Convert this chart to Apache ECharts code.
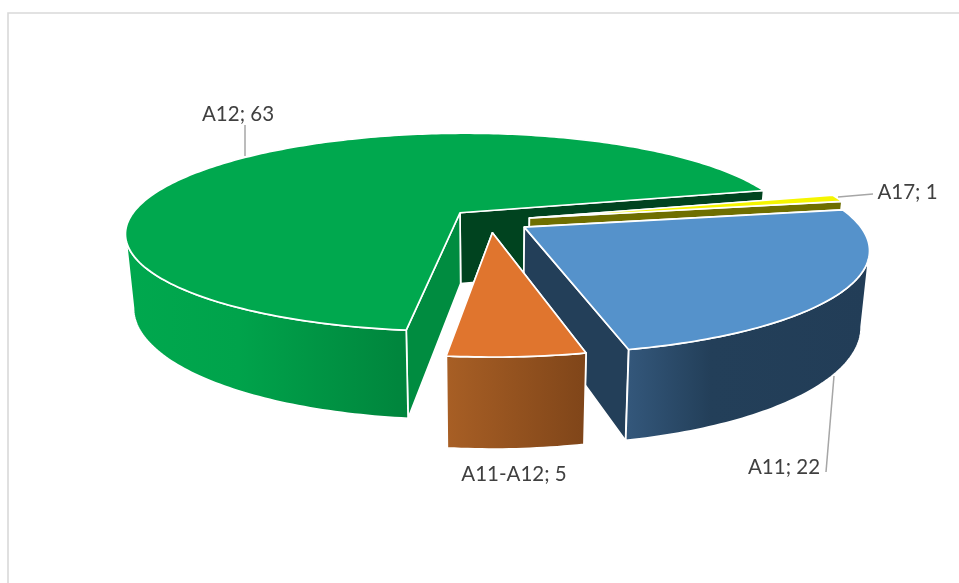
<!DOCTYPE html>
<html><head><meta charset="utf-8">
<style>html,body{margin:0;padding:0;background:#fff}#c{width:959px;height:583px}</style>
<script src="https://cdn.jsdelivr.net/npm/echarts@6/dist/echarts.min.js"></script>
</head><body><div id="c"></div>
<script>
// data, clockwise from the first slice
const categories = ['A17', 'A11', 'A11-A12', 'A12'];
const values = [1, 22, 5, 63];
// paint order: back to front
const paintOrder = ['A12', 'A17', 'A11', 'A11-A12'];
const startAngle = 75.8;
const explode = 0.122;

// projection of the tilted disc
const view = { cx: 490, cy: 220.5, rx: 332, ry: 98.2, persp: 0.2, depth: 72, taper: 0.022 };

const looks = {
  'A12': { reach: 1, top: '#00A84E', startCut: '#008C40', endCut: '#00431F',
           wall: [[0, '#00A84E'], [0.4, '#00A34B'], [1, '#00843C']] },
  'A17': { reach: 1, top: '#F5F500', startCut: '#6F6F00', endCut: '#6F6F00',
           wall: [[0, '#6F6F00'], [1, '#6F6F00']] },
  'A11': { reach: 1, top: '#5592CB', startCut: '#233F59', endCut: '#233F59',
           wall: [[0, '#34587C'], [0.35, '#233F59'], [1, '#223D57']] },
  'A11-A12': { reach: 0.966, top: '#E0752E', startCut: '#8F4F1E', endCut: '#8F4F1E',
           wall: [[0, '#A85F25'], [1, '#7F4519']] }
};
const labelSpots = {
  'A12': { x: 238, y: 114 }, 'A17': { x: 907.5, y: 192 },
  'A11': { x: 784, y: 467 }, 'A11-A12': { x: 514, y: 474 }
};
const leaders = {
  'A12': [[245, 125], [245, 156]],
  'A17': [[838, 197], [873, 194]],
  'A11': [[834, 376], [826, 472]]
};

const total = values.reduce((a, b) => a + b, 0);
const rad = d => d * Math.PI / 180;
const slices = {};
let run = startAngle;
categories.forEach((c, i) => {
  const span = values[i] / total * 360;
  slices[c] = { a1: run, a2: run + span, value: values[i] };
  run += span;
});

function project(U, V, z) {
  const s = 1 / (1 + view.persp * V), h = z || 0;
  return [view.cx + view.rx * U * s * (1 - view.taper * h),
          view.cy - view.ry * V * s + h * view.depth * s];
}
function sliceParts(name) {
  const sl = slices[name], look = looks[name];
  const mid = rad((sl.a1 + sl.a2) / 2);
  const ox = Math.sin(mid) * explode, oy = Math.cos(mid) * explode;
  const rim = (deg, z) => project(ox + look.reach * Math.sin(rad(deg)), oy + look.reach * Math.cos(rad(deg)), z);
  const apex = z => project(ox, oy, z);
  const arc = (a, b, z) => {
    const pts = [], n = Math.max(2, Math.ceil(Math.abs(b - a)));
    for (let i = 0; i <= n; i++) pts.push(rim(a + (b - a) * i / n, z));
    return pts;
  };
  const edge = { stroke: '#fff', lineWidth: 1.7, lineJoin: 'round' };
  const poly = (points, fill) => ({ type: 'polygon', shape: { points }, style: Object.assign({ fill }, edge) });
  const cut = (deg, fill) => ({ depth: Math.cos(rad(deg)), el: poly([apex(0), rim(deg, 0), rim(deg, 1), apex(1)], fill) });

  // the visible outer wall is the front half, between the left and right silhouette points
  let w1 = null, w2 = null, maxX = -Infinity, minX = Infinity;
  for (let d = sl.a1; d <= sl.a2; d += 0.25) {
    if (d < 90 || d > 270) continue;
    const x = rim(d, 0)[0];
    if (x > maxX) { maxX = x; w1 = d; }
    if (x < minX) { minX = x; w2 = d; }
  }
  // the cut faces, farther one first
  const parts = [cut(sl.a1, look.startCut), cut(sl.a2, look.endCut)]
    .sort((a, b) => b.depth - a.depth).map(c => c.el);
  if (w1 !== null && w2 > w1) {
    const wall = arc(w1, w2, 0).concat(arc(w2, w1, 1));
    const fill = new echarts.graphic.LinearGradient(0, 0, 1, 0, look.wall.map(s => ({ offset: s[0], color: s[1] })));
    parts.push(poly(wall, fill));
  }
  parts.push(poly([apex(0)].concat(arc(sl.a1, sl.a2, 0)), look.top));
  return parts;
}

const chart = echarts.init(document.getElementById('c'), null, { renderer: 'canvas' });
chart.setOption({
  animation: false,
  backgroundColor: '#fff',
  graphic: [{ type: 'rect', silent: true, z: 0,
    shape: { x: 8, y: 13, width: 1100, height: 800 },
    style: { fill: 'none', stroke: '#D9D9D9', lineWidth: 1.6 } }],
  series: [{
    type: 'custom', coordinateSystem: 'none', silent: true, z: 2,
    data: paintOrder.map(n => [n]),
    renderItem: (p) => {
      const name = paintOrder[p.dataIndex];
      return { type: 'group', children: sliceParts(name) };
    }
  }, {
    type: 'custom', coordinateSystem: 'none', silent: true, z: 3,
    data: paintOrder.map(n => [n]),
    renderItem: (p) => {
      const name = paintOrder[p.dataIndex];
      const children = [];
      if (leaders[name]) children.push({ type: 'polyline', shape: { points: leaders[name] },
        style: { fill: 'none', stroke: '#A6A6A6', lineWidth: 1.5 } });
      children.push({ type: 'text', style: {
        x: labelSpots[name].x, y: labelSpots[name].y,
        text: name + '; ' + slices[name].value,
        fill: '#404040', font: '20.5px Lato', align: 'center', verticalAlign: 'middle' } });
      return { type: 'group', children };
    }
  }]
});
</script></body></html>
